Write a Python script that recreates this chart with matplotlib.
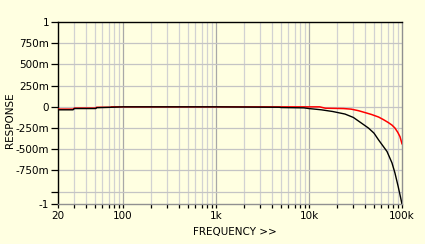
import matplotlib
matplotlib.use("Agg")
import matplotlib.pyplot as plt
from matplotlib.ticker import FixedLocator, NullFormatter, FixedFormatter
import numpy as np

# Data
black_f = [20, 29, 30, 51, 52, 75, 100, 1000, 4800, 5000, 8800, 10000, 13600, 18000, 24400,
           30000, 37000, 43600, 50000, 56000, 63000, 69000, 78000, 84000, 91000, 100000]
black_v = [-0.035, -0.035, -0.02, -0.02, -0.01, -0.005, 0.0, 0.0, -0.005, -0.008, -0.012, -0.02,
           -0.035, -0.055, -0.085, -0.125, -0.195, -0.25, -0.31, -0.39, -0.467, -0.526,
           -0.66, -0.78, -0.94, -1.145]
red_f = [20, 29, 30, 51, 52, 73, 75, 100, 1000, 5000, 13000, 15000, 23500, 28400, 34000,
         39900, 47000, 56000, 63000, 71000, 78000, 84000, 90000, 95000, 100000]
red_v = [-0.027, -0.027, -0.015, -0.015, -0.005, -0.005, 0.0, 0.0, 0.0, 0.0, 0.0, -0.016,
         -0.02, -0.027, -0.045, -0.067, -0.09, -0.12, -0.15, -0.184, -0.215, -0.25,
         -0.3, -0.35, -0.435]

y_ticks = [1, 0.75, 0.5, 0.25, 0, -0.25, -0.5, -0.75, -1.0, -1.145]
y_labels = ["1", "750m", "500m", "250m", "0", "-250m", "-500m", "-750m", "", "-1"]
x_major = [20, 100, 1000, 10000, 100000]
x_labels = ["20", "100", "1k", "10k", "100k"]

bg = "#FFFFE1"
W, H = 425, 244
fig = plt.figure(figsize=(W / 100, H / 100), dpi=100, facecolor=bg)
ax = fig.add_axes([58 / W, 1 - 204 / H, (402 - 58) / W, (204 - 22) / H], facecolor=bg)

ax.set_xscale("log")
ax.set_xlim(20, 100000)
ax.set_ylim(-1.145, 1)

# grid lines
minor_x = [m * 10 ** d for d in range(1, 5) for m in range(2, 10) if 20 < m * 10 ** d < 100000]
for xv in minor_x:
    ax.axvline(xv, color="#D2D2D2", lw=0.9, zorder=0)
for xv in [100, 1000, 10000]:
    ax.axvline(xv, color="#A8A8A8", lw=0.9, zorder=0)
for yv in y_ticks[1:-1]:
    ax.axhline(yv, color="#C4C4C4", lw=0.9, zorder=0)

ax.plot(red_f, red_v, color="#FF0000", lw=1.1, zorder=3)
ax.plot(black_f, black_v, color="#000000", lw=1.0, zorder=4)

ax.xaxis.set_major_locator(FixedLocator(x_major))
ax.xaxis.set_major_formatter(FixedFormatter(x_labels))
ax.xaxis.set_minor_locator(FixedLocator(minor_x))
ax.xaxis.set_minor_formatter(NullFormatter())
ax.yaxis.set_major_locator(FixedLocator(y_ticks))
ax.yaxis.set_major_formatter(FixedFormatter(y_labels))
ax.yaxis.set_minor_locator(FixedLocator([]))

ax.tick_params(axis="x", which="both", direction="out", length=3, width=0.9,
               color="black", labelsize=7.5, pad=2)
ax.tick_params(axis="y", which="both", direction="out", length=5, width=0.9,
               color="black", labelsize=7.5, pad=1.5)

ax.spines["left"].set_color("black")
ax.spines["top"].set_color("black")
ax.spines["right"].set_color("#909090")
ax.spines["bottom"].set_color("#909090")
for s in ax.spines.values():
    s.set_linewidth(1.0)

fig.text(235 / W, 1 - 232 / H, "FREQUENCY >>", ha="center", va="center", fontsize=7.5)
fig.text(10 / W, 1 - 120 / H, "RESPONSE", ha="center", va="center", rotation=90, fontsize=7.5)

fig.savefig("out.png", dpi=100, facecolor=bg)
